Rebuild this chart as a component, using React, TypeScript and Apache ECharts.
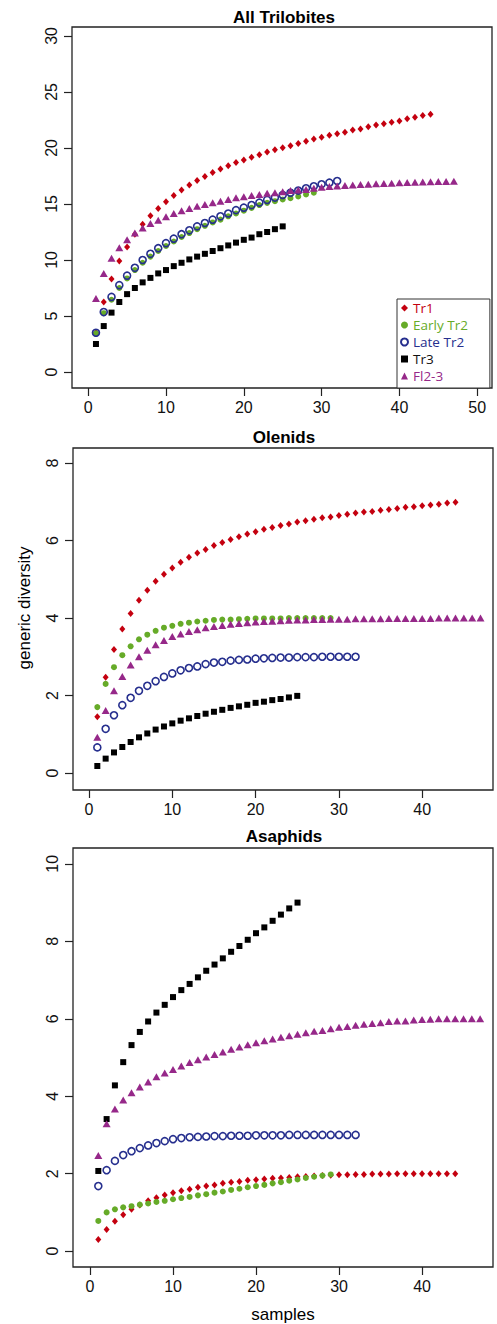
import React, { useEffect, useRef } from "react";
import * as echarts from "echarts";

// ---------- data ----------
const GROUPS = ["Tr1", "Early Tr2", "Late Tr2", "Tr3", "Fl2-3"];

// All Trilobites
const ALL_TR1 = [3.5, 6.25, 8.3, 9.9, 11.15, 12.3, 13.2, 13.95, 14.6, 15.2, 15.75, 16.25, 16.7, 17.1, 17.45, 17.8, 18.12, 18.42, 18.7, 18.93, 19.17, 19.4, 19.64, 19.85, 20.03, 20.2, 20.4, 20.6, 20.8, 20.95, 21.13, 21.28, 21.4, 21.6, 21.7, 21.9, 22.05, 22.17, 22.3, 22.4, 22.6, 22.74, 22.9, 23.0];
const ALL_ETR2 = [3.45, 5.25, 6.45, 7.5, 8.35, 9.1, 9.75, 10.3, 10.8, 11.25, 11.65, 12.05, 12.4, 12.75, 13.05, 13.35, 13.6, 13.9, 14.15, 14.4, 14.65, 14.9, 15.1, 15.25, 15.4, 15.52, 15.67, 15.85, 16.0];
const ALL_LTR2 = [3.5, 5.35, 6.7, 7.75, 8.6, 9.3, 10.0, 10.55, 11.05, 11.5, 11.9, 12.3, 12.65, 13.0, 13.3, 13.6, 13.9, 14.15, 14.45, 14.67, 14.9, 15.12, 15.36, 15.57, 15.8, 16.0, 16.2, 16.4, 16.58, 16.76, 16.9, 17.05];
const ALL_TR3 = [2.5, 4.1, 5.3, 6.25, 6.95, 7.5, 8.0, 8.4, 8.8, 9.1, 9.45, 9.75, 10.05, 10.3, 10.55, 10.8, 11.05, 11.3, 11.55, 11.8, 12.0, 12.3, 12.5, 12.75, 13.0];
const ALL_FL23 = [6.55, 8.8, 10.15, 11.1, 11.8, 12.4, 12.85, 13.25, 13.55, 13.85, 14.15, 14.4, 14.6, 14.8, 14.95, 15.1, 15.25, 15.4, 15.55, 15.65, 15.75, 15.85, 15.95, 16.0, 16.1, 16.2, 16.25, 16.3, 16.4, 16.5, 16.55, 16.6, 16.65, 16.7, 16.73, 16.77, 16.8, 16.83, 16.86, 16.89, 16.91, 16.94, 16.96, 16.98, 17.0, 17.0, 17.02];

// Olenids
const OLE_TR1 = [1.45, 2.47, 3.19, 3.72, 4.12, 4.46, 4.72, 4.95, 5.13, 5.29, 5.44, 5.57, 5.68, 5.77, 5.87, 5.95, 6.03, 6.1, 6.17, 6.23, 6.29, 6.34, 6.39, 6.43, 6.48, 6.51, 6.55, 6.59, 6.61, 6.65, 6.68, 6.71, 6.74, 6.75, 6.78, 6.8, 6.83, 6.86, 6.87, 6.9, 6.92, 6.94, 6.97, 6.99];
const OLE_ETR2 = [1.7, 2.3, 2.73, 3.04, 3.27, 3.45, 3.57, 3.67, 3.75, 3.8, 3.85, 3.88, 3.91, 3.93, 3.95, 3.96, 3.96, 3.97, 3.98, 3.99, 3.99, 3.99, 3.99, 4.0, 4.0, 4.0, 4.0, 4.0, 4.0];
const OLE_LTR2 = [0.66, 1.14, 1.49, 1.75, 1.94, 2.12, 2.25, 2.37, 2.48, 2.57, 2.65, 2.71, 2.75, 2.81, 2.85, 2.87, 2.9, 2.92, 2.93, 2.95, 2.96, 2.97, 2.98, 2.98, 2.99, 2.99, 2.99, 3.0, 3.0, 3.0, 3.0, 3.0];
const OLE_TR3 = [0.18, 0.37, 0.53, 0.67, 0.8, 0.92, 1.02, 1.12, 1.2, 1.28, 1.35, 1.41, 1.47, 1.53, 1.58, 1.63, 1.68, 1.72, 1.76, 1.81, 1.84, 1.88, 1.91, 1.95, 1.99];
const OLE_FL23 = [0.92, 1.61, 2.12, 2.49, 2.79, 3.0, 3.17, 3.31, 3.42, 3.52, 3.59, 3.65, 3.7, 3.75, 3.78, 3.81, 3.84, 3.86, 3.88, 3.9, 3.91, 3.92, 3.93, 3.94, 3.95, 3.95, 3.96, 3.96, 3.97, 3.97, 3.97, 3.98, 3.98, 3.98, 3.98, 3.99, 3.99, 3.99, 3.99, 3.99, 3.99, 4.0, 4.0, 4.0, 4.0, 4.0, 4.0];

// Asaphids
const ASA_TR1 = [0.3, 0.56, 0.77, 0.94, 1.08, 1.19, 1.3, 1.38, 1.45, 1.51, 1.56, 1.6, 1.65, 1.68, 1.71, 1.75, 1.78, 1.8, 1.83, 1.84, 1.86, 1.88, 1.89, 1.9, 1.92, 1.93, 1.94, 1.95, 1.96, 1.97, 1.97, 1.98, 1.98, 1.99, 1.99, 1.99, 2.0, 2.0, 2.0, 2.0, 2.0, 2.0, 2.0, 2.0];
const ASA_ETR2 = [0.78, 1.0, 1.08, 1.13, 1.16, 1.2, 1.23, 1.27, 1.3, 1.34, 1.37, 1.4, 1.44, 1.47, 1.51, 1.54, 1.58, 1.61, 1.65, 1.68, 1.71, 1.75, 1.78, 1.82, 1.85, 1.89, 1.92, 1.95, 1.98];
const ASA_LTR2 = [1.68, 2.09, 2.33, 2.48, 2.58, 2.66, 2.73, 2.79, 2.84, 2.89, 2.92, 2.94, 2.95, 2.96, 2.97, 2.97, 2.98, 2.98, 2.98, 2.99, 2.99, 2.99, 2.99, 3.0, 3.0, 3.0, 3.0, 3.0, 3.0, 3.0, 3.0, 3.0];
const ASA_TR3 = [2.07, 3.41, 4.28, 4.88, 5.32, 5.66, 5.93, 6.16, 6.36, 6.56, 6.74, 6.9, 7.07, 7.24, 7.4, 7.56, 7.73, 7.88, 8.04, 8.21, 8.36, 8.53, 8.69, 8.85, 9.0];
const ASA_FL23 = [2.47, 3.29, 3.67, 3.9, 4.09, 4.24, 4.37, 4.5, 4.6, 4.69, 4.78, 4.87, 4.94, 5.01, 5.08, 5.14, 5.21, 5.27, 5.33, 5.38, 5.43, 5.48, 5.52, 5.56, 5.6, 5.64, 5.68, 5.7, 5.74, 5.78, 5.8, 5.83, 5.86, 5.88, 5.9, 5.93, 5.94, 5.94, 5.97, 5.98, 5.99, 6.0, 6.0, 6.0, 6.0, 6.0, 6.0];

const PANEL_TITLES = ["All Trilobites", "Olenids", "Asaphids"];
const X_TICKS = [[0, 10, 20, 30, 40, 50], [0, 10, 20, 30, 40], [0, 10, 20, 30, 40]];
const Y_TICKS = [[0, 5, 10, 15, 20, 25, 30], [0, 2, 4, 6, 8], [0, 2, 4, 6, 8, 10]];
const PANEL_DATA = [
  [ALL_TR1, ALL_ETR2, ALL_LTR2, ALL_TR3, ALL_FL23],
  [OLE_TR1, OLE_ETR2, OLE_LTR2, OLE_TR3, OLE_FL23],
  [ASA_TR1, ASA_ETR2, ASA_LTR2, ASA_TR3, ASA_FL23],
];

// ---------- styling ----------
const COLORS = ["#c4000f", "#66ab28", "#262f8e", "#000000", "#962889"];
const GRIDS = [
  { left: 72, top: 27, width: 420, height: 361 },
  { left: 73, top: 448, width: 420, height: 342 },
  { left: 73, top: 848, width: 420, height: 419 },
];
const X_RANGE = [[-2.08, 51.9], [-1.92, 48.5], [-2.05, 48.55]];
const Y_RANGE = [[-1.43, 30.8], [-0.44, 8.39], [-0.41, 10.41]];
const TITLE_Y = [17, 437, 836];
const FONT = "'Liberation Sans', Arial, Helvetica, sans-serif";

function symbolFor(g: number) {
  const c = COLORS[g];
  switch (g) {
    case 0:
      return { symbol: "diamond", symbolSize: [6, 7], itemStyle: { color: c, opacity: 1 } };
    case 1:
      return { symbol: "circle", symbolSize: 6, itemStyle: { color: c, opacity: 1 } };
    case 2:
      return {
        symbol: "circle",
        symbolSize: 7,
        itemStyle: { color: "rgba(255,255,255,0)", borderColor: c, borderWidth: 1.6, opacity: 1 },
      };
    case 3:
      return { symbol: "rect", symbolSize: 6, itemStyle: { color: c, opacity: 1 } };
    default:
      return { symbol: "triangle", symbolSize: [8, 7], itemStyle: { color: c, opacity: 1 } };
  }
}

export default function App() {
  const ref = useRef<HTMLDivElement>(null);
  useEffect(() => {
    if (!ref.current) return;
    const chart = echarts.init(ref.current, undefined, { renderer: "svg" });

    const grid = GRIDS.map((g) => ({
      ...g,
      show: true,
      borderColor: "#222",
      borderWidth: 1.3,
      backgroundColor: "#fff",
      containLabel: false,
    }));

    const xAxis = GRIDS.map((_, i) => ({
      type: "value",
      gridIndex: i,
      min: X_RANGE[i][0],
      max: X_RANGE[i][1],
      axisLine: { show: false, onZero: false },
      splitLine: { show: false },
      axisTick: {
        show: true,
        inside: false,
        length: 8,
        customValues: X_TICKS[i],
        lineStyle: { color: "#222", width: 1.2 },
      },
      axisLabel: {
        customValues: X_TICKS[i],
        margin: 11,
        fontFamily: FONT,
        fontSize: 16,
        color: "#111",
      },
    }));

    const yAxis = GRIDS.map((_, i) => ({
      type: "value",
      gridIndex: i,
      min: Y_RANGE[i][0],
      max: Y_RANGE[i][1],
      axisLine: { show: false, onZero: false },
      splitLine: { show: false },
      axisTick: {
        show: true,
        inside: false,
        length: 8,
        customValues: Y_TICKS[i],
        lineStyle: { color: "#222", width: 1.2 },
      },
      axisLabel: {
        customValues: Y_TICKS[i],
        rotate: 90,
        margin: 13,
        fontFamily: FONT,
        fontSize: 16,
        color: "#111",
      },
    }));

    const series: any[] = [];
    PANEL_DATA.forEach((panel, p) => {
      panel.forEach((vals, g) => {
        series.push({
          type: "scatter",
          name: GROUPS[g],
          xAxisIndex: p,
          yAxisIndex: p,
          data: vals.map((v, k) => [k + 1, v]),
          ...symbolFor(g),
          z: 2 + g,
          emphasis: { disabled: true },
        });
      });
    });

    const graphic: any[] = [];
    PANEL_TITLES.forEach((t, i) => {
      graphic.push({
        type: "text",
        x: 284,
        y: TITLE_Y[i],
        style: {
          text: t,
          font: `bold 17px ${FONT}`,
          fill: "#000",
          textAlign: "center",
          textVerticalAlign: "middle",
        },
      });
    });
    graphic.push({
      type: "text",
      x: 24,
      y: 608,
      rotation: Math.PI / 2,
      style: {
        text: "generic diversity",
        font: `17px ${FONT}`,
        fill: "#000",
        textAlign: "center",
        textVerticalAlign: "middle",
      },
    });
    graphic.push({
      type: "text",
      x: 283,
      y: 1314,
      style: {
        text: "samples",
        font: `17px ${FONT}`,
        fill: "#000",
        textAlign: "center",
        textVerticalAlign: "middle",
      },
    });

    chart.setOption({
      animation: false,
      backgroundColor: "#fff",
      grid,
      xAxis,
      yAxis,
      series,
      graphic,
      legend: {
        orient: "vertical",
        left: 397,
        top: 299,
        padding: [2, 22, 5, 3],
        itemGap: 3,
        itemWidth: 7,
        itemHeight: 7,
        borderColor: "#333",
        borderWidth: 1,
        backgroundColor: "#fff",
        selectedMode: false,
        textStyle: { fontFamily: "'Open Sans', 'Noto Sans', sans-serif", fontSize: 13.5, lineHeight: 14 },
        data: GROUPS.map((n, g) => ({ name: n, textStyle: { color: COLORS[g] === "#000000" ? "#111" : COLORS[g] } })),
      },
    });

    return () => chart.dispose();
  }, []);

  return (
    <div
      ref={ref}
      style={{ position: "absolute", left: 0, top: 0, width: 497, height: 1324 }}
    />
  );
}
